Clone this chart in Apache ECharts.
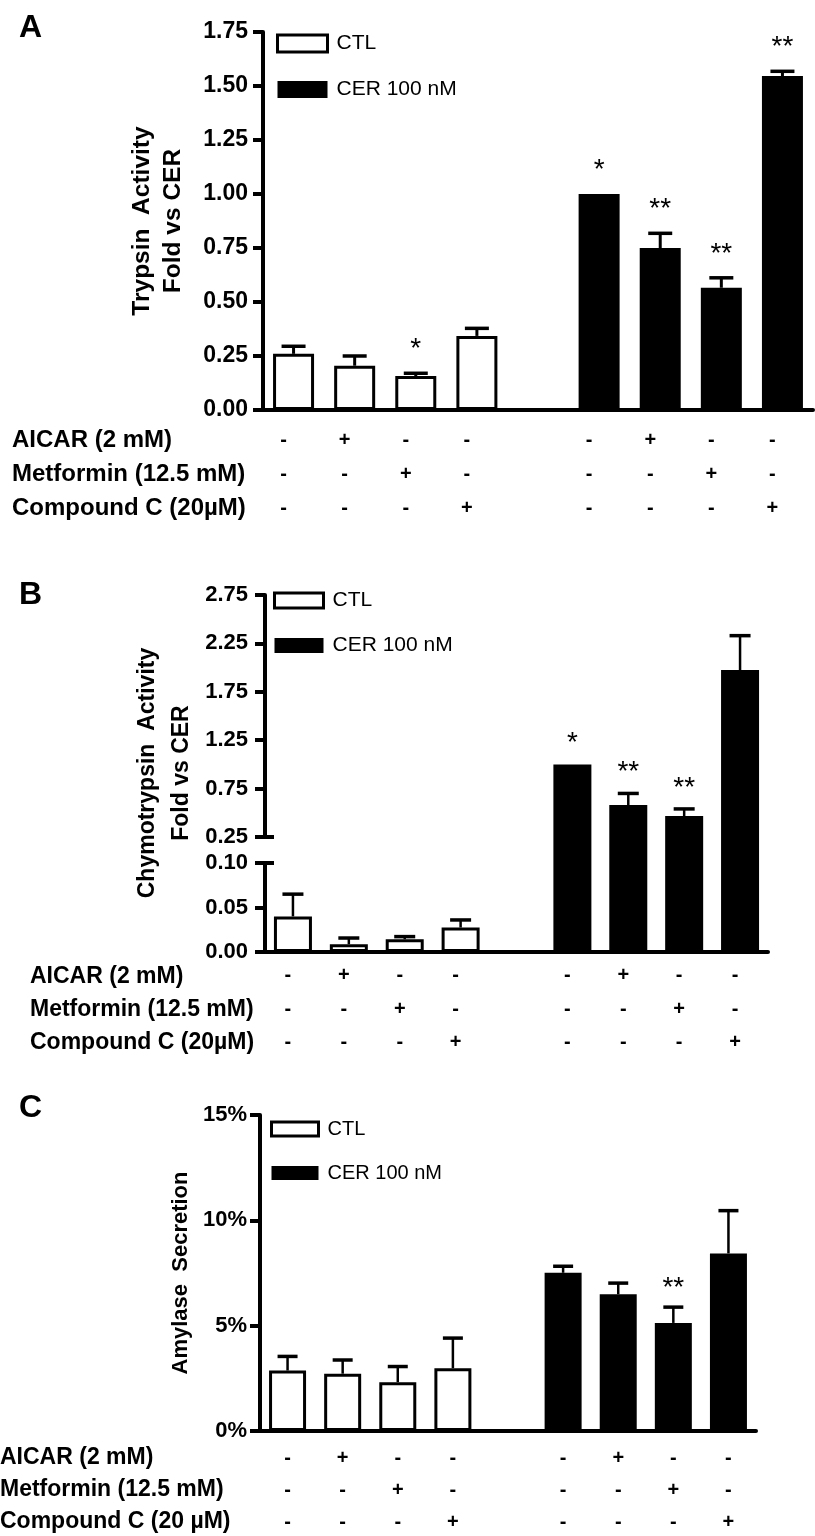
<!DOCTYPE html>
<html>
<head>
<meta charset="utf-8">
<script src="https://cdn.jsdelivr.net/npm/echarts@6.0.0/dist/echarts.min.js"></script>
<style>
  body { margin: 0; background: #fff; }
  #chart { width: 815px; height: 1536px; }
</style>
</head>
<body>
<div id="chart"></div>
<script>
// 9 slots on the x axis, the 5th one is the empty gap between CTL and CER
const groups = ['CTL', 'CTL + AICAR', 'CTL + Metformin', 'CTL + Compound C', '',
  'CER', 'CER + AICAR', 'CER + Metformin', 'CER + Compound C'];

// treatment rows under the x axis
const aicarRow = ['-', '+', '-', '-', '', '-', '+', '-', '-'];
const metforminRow = ['-', '-', '+', '-', '', '-', '-', '+', '-'];
const compoundRow = ['-', '-', '-', '+', '', '-', '-', '-', '+'];
const rowNamesAB = ['AICAR (2 mM)', 'Metformin (12.5 mM)', 'Compound C (20µM)'];
const rowNamesC = ['AICAR (2 mM)', 'Metformin (12.5 mM)', 'Compound C (20 µM)'];

// A - trypsin activity (fold vs CER)
const trypsinCtl = [0.26, 0.205, 0.157, 0.343];
const trypsinCtlErr = [0.035, 0.045, 0.013, 0.035];
const trypsinCer = [1.0, 0.75, 0.566, 1.546];
const trypsinCerErr = [0, 0.068, 0.046, 0.022];
const trypsinStars = ['', '', '*', '', '', '*', '**', '**', '**'];

// B - chymotrypsin activity (fold vs CER), broken axis
const chymoCtl = [0.040, 0.0087, 0.0143, 0.0275];
const chymoCtlErr = [0.025, 0.007, 0.003, 0.0085];
const chymoCer = [1.0, 0.58, 0.467, 1.975];
const chymoCerErr = [0, 0.12, 0.073, 0.355];
const chymoStars = ['', '', '', '', '', '*', '**', '**', ''];
const chymoUpperTicks = [0.25, 0.75, 1.25, 1.75, 2.25, 2.75];

// C - amylase secretion
const amylaseCtl = [0.0287, 0.0272, 0.0232, 0.0298];
const amylaseCtlErr = [0.0067, 0.0065, 0.0074, 0.0143];
const amylaseCer = [0.0751, 0.0649, 0.0513, 0.0843];
const amylaseCerErr = [0.0031, 0.0053, 0.0075, 0.0203];
const amylaseStars = ['', '', '', '', '', '', '', '**', ''];

const FONT = "'Liberation Sans', Arial, Helvetica, sans-serif";
const EMPTY = ['-', '-', '-', '-', '-'];

function ctlData(vals) { return vals.concat(EMPTY); }
function cerData(vals) { return EMPTY.concat(vals); }

var myChart = echarts.init(document.getElementById('chart'), null, { renderer: 'canvas' });

const whiteStyle = { color: '#fff', borderColor: '#000', borderWidth: 3 };
const blackStyle = { color: '#000' };

function bar(name, data, axis, width) {
  return {
    type: 'bar', name: name, data: data,
    xAxisIndex: axis, yAxisIndex: axis,
    barWidth: width, barGap: '-100%',
    itemStyle: name === 'CTL' ? whiteStyle : blackStyle,
    clip: true, silent: true
  };
}

// error bars + stars, drawn through the axis scales
function errSeries(vals, errs, offset, stars, axis, st) {
  return {
    type: 'custom', xAxisIndex: axis, yAxisIndex: axis, z: 5, silent: true,
    data: vals.map((v, i) => [i + offset, v, errs[i]]),
    encode: { x: 0, y: 1 },
    renderItem: function (params, api) {
      const idx = api.value(0), v = api.value(1), e = api.value(2);
      const p0 = api.coord([idx, v]);
      const p1 = api.coord([idx, v + e]);
      const kids = [];
      if (e > 0) {
        kids.push({ type: 'line', shape: { x1: p0[0], y1: p0[1], x2: p1[0], y2: p1[1] },
          style: { stroke: '#000', lineWidth: st.lw } });
        kids.push({ type: 'line', shape: { x1: p1[0] - st.cap / 2, y1: p1[1], x2: p1[0] + st.cap / 2, y2: p1[1] },
          style: { stroke: '#000', lineWidth: st.capLw } });
      }
      if (stars[idx]) {
        kids.push({ type: 'text', style: { text: stars[idx], x: p1[0], y: p1[1] - st.gap,
          fill: '#000', fontSize: 28, fontFamily: FONT, align: 'center', verticalAlign: 'middle' } });
      }
      return { type: 'group', children: kids };
    }
  };
}

function xAxis(grid, show, fs, lh, margin, shift) {
  return {
    type: 'category', gridIndex: grid, data: groups, show: show,
    axisLine: { lineStyle: { color: '#000', width: 4 } },
    axisTick: { show: false },
    axisLabel: {
      interval: 0, color: '#000', fontSize: fs, fontWeight: 'bold', fontFamily: FONT,
      lineHeight: lh, margin: margin, padding: [0, shift, 0, 0],
      formatter: (v, i) => aicarRow[i] + '\n' + metforminRow[i] + '\n' + compoundRow[i]
    }
  };
}

function yAxis(grid, extra) {
  return Object.assign({
    type: 'value', gridIndex: grid,
    axisLine: { show: true, lineStyle: { color: '#000', width: 4 } },
    axisTick: { show: true, length: 10, lineStyle: { color: '#000', width: 4 } },
    splitLine: { show: false },
    axisLabel: { color: '#000', fontSize: 22, fontWeight: 'bold', fontFamily: FONT, margin: 15 }
  }, extra);
}

function legend(left, top, w, h, gap, fs) {
  return {
    left: left, top: top, orient: 'vertical', padding: 0,
    itemWidth: w, itemHeight: h, itemGap: gap, selectedMode: false,
    textStyle: { color: '#000', fontSize: fs, fontFamily: FONT, lineHeight: h, padding: [0, 0, 0, 4] },
    data: [
      { name: 'CTL', icon: 'rect', itemStyle: { color: '#fff', borderColor: '#000', borderWidth: 3 } },
      { name: 'CER 100 nM', icon: 'rect', itemStyle: { color: '#000', borderWidth: 0 } }
    ]
  };
}

function rowText(left, tops, names, fs) {
  return names.map((n, i) => ({
    type: 'text', left: left, top: tops[i],
    style: { text: n, fill: '#000', font: 'bold ' + fs + 'px ' + FONT }
  }));
}

function letter(t, top) {
  return { type: 'text', left: 19, top: top, style: { text: t, fill: '#000', font: 'bold 32px ' + FONT } };
}

const fix2 = v => v.toFixed(2);
const pct = v => Math.round(v * 100) + '%';

const errA = { lw: 3, capLw: 3.5, cap: 24, gap: 24 };
const errB = { lw: 2.5, capLw: 3.5, cap: 21, gap: 21 };
const errC = { lw: 2.5, capLw: 3.5, cap: 20, gap: 19 };

const option = {
  backgroundColor: '#fff',
  animation: false,
  grid: [
    { left: 263, top: 32, width: 550, height: 378, outerBoundsMode: 'none' },   // A
    { left: 265, top: 595, width: 503, height: 242, outerBoundsMode: 'none' },  // B upper
    { left: 265, top: 837, width: 503, height: 26, outerBoundsMode: 'none' },   // B break
    { left: 265, top: 863, width: 503, height: 89, outerBoundsMode: 'none' },   // B lower
    { left: 260, top: 1115, width: 496, height: 316, outerBoundsMode: 'none' }  // C
  ],
  xAxis: [
    xAxis(0, true, 20, 34, 13, 20),
    xAxis(1, false, 20, 34, 13, 0),
    xAxis(2, false, 20, 34, 13, 0),
    xAxis(3, true, 20, 33.5, 7, 10),
    xAxis(4, true, 20, 32, 11, 0)
  ],
  yAxis: [
    yAxis(0, {
      min: 0, max: 1.75, interval: 0.25,
      axisLabel: { color: '#000', fontSize: 23, fontWeight: 'bold', fontFamily: FONT, margin: 15, formatter: fix2 },
      name: 'Trypsin  Activity\nFold vs CER', nameLocation: 'middle', nameRotate: 90, nameGap: 74,
      nameTextStyle: { color: '#000', fontSize: 24.5, fontWeight: 'bold', fontFamily: FONT, lineHeight: 31 }
    }),
    yAxis(1, {
      min: 0.25, max: 2.75,
      axisTick: { show: true, length: 10, customValues: chymoUpperTicks, lineStyle: { color: '#000', width: 4 } },
      axisLabel: { color: '#000', fontSize: 22, fontWeight: 'bold', fontFamily: FONT, margin: 17,
        customValues: chymoUpperTicks, formatter: fix2 }
    }),
    yAxis(2, {
      min: 0, max: 0.1, interval: 0.1,
      axisLine: { show: false },
      axisTick: { show: true, inside: true, length: 9, lineStyle: { color: '#000', width: 4 } },
      axisLabel: { show: false }
    }),
    yAxis(3, {
      min: 0, max: 0.1, interval: 0.05,
      axisLabel: { color: '#000', fontSize: 22, fontWeight: 'bold', fontFamily: FONT, margin: 17, formatter: fix2 }
    }),
    yAxis(4, {
      min: 0, max: 0.15, interval: 0.05,
      axisLabel: { color: '#000', fontSize: 22, fontWeight: 'bold', fontFamily: FONT, margin: 13, formatter: pct },
      name: 'Amylase  Secretion', nameLocation: 'middle', nameRotate: 90, nameGap: 67,
      nameTextStyle: { color: '#000', fontSize: 22, fontWeight: 'bold', fontFamily: FONT }
    })
  ],
  legend: [
    legend(276, 33, 50, 17, 25, 21),
    legend(273, 590, 49, 15, 24, 21),
    legend(270, 1119, 47, 14, 24, 20)
  ],
  graphic: [
    letter('A', 12), letter('B', 579), letter('C', 1092),
    {
      type: 'text', x: 165, y: 773, rotation: Math.PI / 2,
      style: { text: 'Chymotrypsin  Activity\nFold vs CER', fill: '#000', font: 'bold 23px ' + FONT,
        align: 'center', verticalAlign: 'middle', lineHeight: 34 }
    }
  ].concat(
    rowText(12, [428, 462, 496], rowNamesAB, 24),
    rowText(30, [965, 998, 1031], rowNamesAB, 23),
    rowText(0, [1446, 1478, 1510], rowNamesC, 23)
  ),
  series: [
    // A
    bar('CTL', ctlData(trypsinCtl), 0, 41),
    bar('CER 100 nM', cerData(trypsinCer), 0, 41),
    errSeries(trypsinCtl, trypsinCtlErr, 0, trypsinStars, 0, errA),
    errSeries(trypsinCer, trypsinCerErr, 5, trypsinStars, 0, errA),
    // B upper / break / lower
    bar('CER 100 nM', cerData(chymoCer), 1, 38),
    errSeries(chymoCer, chymoCerErr, 5, chymoStars, 1, errB),
    bar('CER 100 nM', cerData(chymoCer), 2, 38),
    bar('CTL', ctlData(chymoCtl), 3, 38),
    bar('CER 100 nM', cerData(chymoCer), 3, 38),
    errSeries(chymoCtl, chymoCtlErr, 0, chymoStars, 3, errB),
    // C
    bar('CTL', ctlData(amylaseCtl), 4, 37),
    bar('CER 100 nM', cerData(amylaseCer), 4, 37),
    errSeries(amylaseCtl, amylaseCtlErr, 0, amylaseStars, 4, errC),
    errSeries(amylaseCer, amylaseCerErr, 5, amylaseStars, 4, errC)
  ]
};

myChart.setOption(option);
window.addEventListener('resize', function () {
  myChart.resize();
});
</script>
</body>
</html>
